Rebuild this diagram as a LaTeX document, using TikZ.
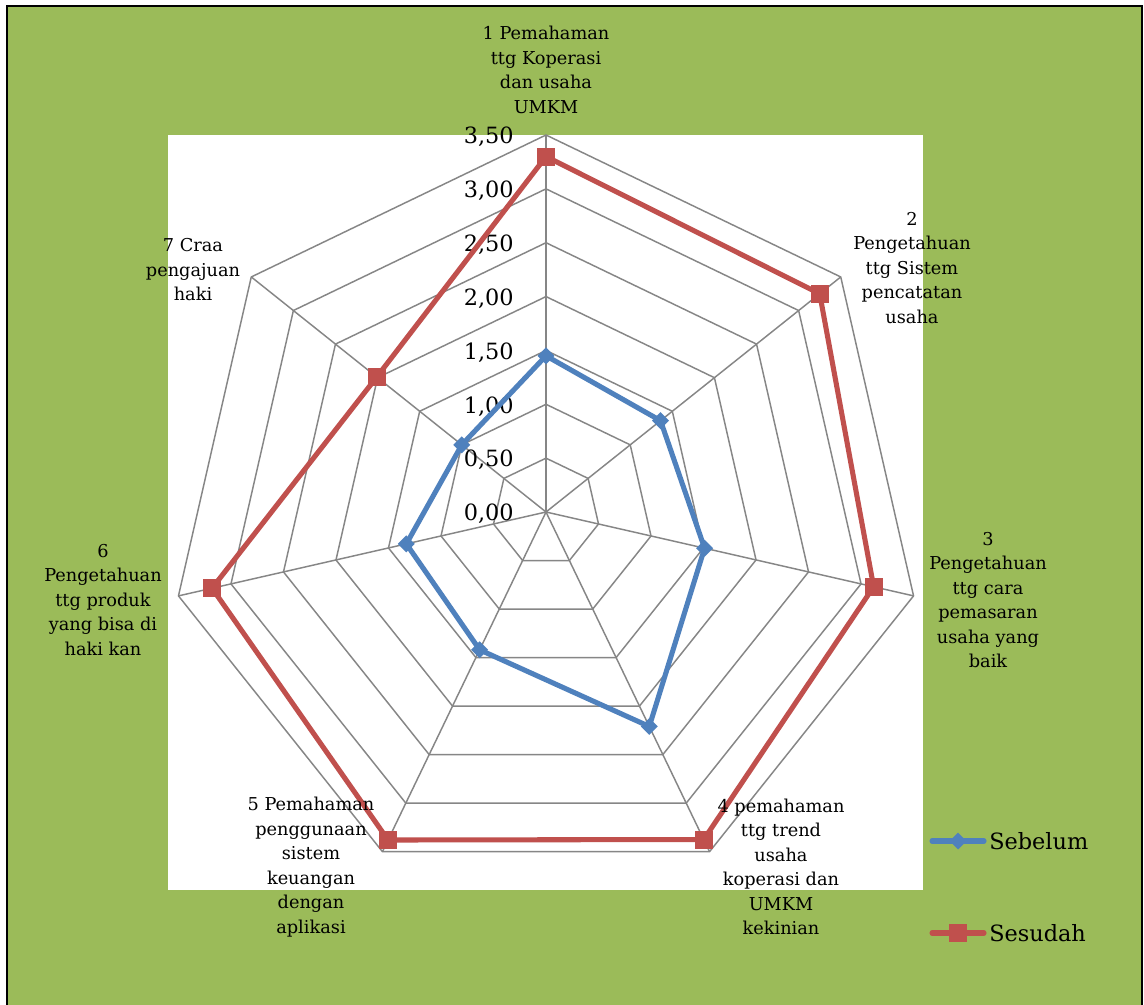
\documentclass[tikz,border=0pt]{standalone}
\usepackage{fontspec}
\setmainfont{DejaVu Serif}
\usetikzlibrary{calc}
\definecolor{bggreen}{HTML}{9BBB59}
\definecolor{gridgray}{HTML}{868686}
\definecolor{serblue}{HTML}{4F81BD}
\definecolor{serred}{HTML}{C0504D}
\tikzset{
  catlabel/.style={font=\fontsize{13.3}{18.4}\selectfont, align=center, inner sep=0pt, text=black},
  axlabel/.style={font=\fontsize{16.8}{18}\selectfont, inner sep=0pt, anchor=east, text=black},
  leglabel/.style={font=\fontsize{16.8}{20}\selectfont, inner sep=0pt, anchor=west, text=black},
  gridline/.style={draw=gridgray, line width=1.1pt, line join=miter},
  blueline/.style={draw=serblue, line width=3.8pt, line join=round, line cap=round},
  redline/.style={draw=serred, line width=3.8pt, line join=round, line cap=round},
  bluemark/.style={fill=serblue, draw=none, rectangle, rotate=45, minimum size=9pt, inner sep=0pt},
  redmark/.style={fill=serred, draw=none, rectangle, minimum size=13.5pt, inner sep=0pt},
}
\begin{document}
\begin{tikzpicture}[x=0.75pt,y=-0.75pt]
\useasboundingbox (0,0) rectangle (1144,1005);
\fill[white] (0,0) rectangle (1144,1005);
\fill[bggreen] (7,6) rectangle (1143,1005);
\draw[black, line width=2pt] (7,1005) -- (7,6) -- (1142,6) -- (1142,1005);
\fill[white] (168,135) rectangle (923,890);
\coordinate (O) at (546,512);
% grid polygons
\foreach \i in {1,...,7}{
  \draw[gridline] ($(O)+(-90:\i*53.857)$)
    \foreach \k in {1,...,6}{ -- ($(O)+({-90+\k*360/7}:\i*53.857)$) } -- cycle;
}
% spokes
\foreach \k in {0,...,6}{
  \coordinate (s\k) at ($(O)+({-90+\k*360/7}:377)$);
  \draw[gridline] (O) -- (s\k);
}
% axis labels
\foreach \i/\t in {0/{0,00},1/{0,50},2/{1,00},3/{1,50},4/{2,00},5/{2,50},6/{3,00},7/{3,50}}{
  \node[axlabel] (ax\i) at (514, {512-\i*53.857+2}) {\t};
}
% data
\def\u{107.714}
\foreach \k/\v in {1/1.45,2/1.36,3/1.51,4/2.21,5/1.42,6/1.33,7/1.0}{
  \coordinate (b\k) at ($(O)+({-90+(\k-1)*360/7}:\v*\u)$);
}
\foreach \k/\v in {1/3.30,2/3.25,3/3.12,4/3.375,5/3.38,6/3.18,7/2.01}{
  \coordinate (r\k) at ($(O)+({-90+(\k-1)*360/7}:\v*\u)$);
}
\draw[blueline] (b1) -- (b2) -- (b3) -- (b4) -- (b5) -- (b6) -- (b7) -- cycle;
\draw[redline] (r1) -- (r2) -- (r3) -- (r4) -- (r5) -- (r6) -- (r7) -- cycle;
\foreach \k in {1,...,7}{
  \node[bluemark] (mb\k) at (b\k) {};
  \node[redmark] (mr\k) at (r\k) {};
}
% category labels
\node[catlabel] (c1) at (546,70) {1 Pemahaman\\ttg Koperasi\\dan usaha\\UMKM};
\node[catlabel] (c2) at (912,268) {2\\Pengetahuan\\ttg Sistem\\pencatatan\\usaha};
\node[catlabel] (c3) at (988,600) {3\\Pengetahuan\\ttg cara\\pemasaran\\usaha yang\\baik};
\node[catlabel] (c4) at (781,867) {4 pemahaman\\ttg trend\\usaha\\koperasi dan\\UMKM\\kekinian};
\node[catlabel] (c5) at (311,867) {5 Pemahaman\\penggunaan\\sistem\\keuangan\\dengan\\aplikasi};
\node[catlabel] (c6) at (103,600) {6\\Pengetahuan\\ttg produk\\yang bisa di\\haki kan};
\node[catlabel] (c7) at (193,270) {7 Craa\\pengajuan\\haki};
% legend
\coordinate (lb1) at (932,841);
\coordinate (lb2) at (984,841);
\draw[blueline] (lb1) -- (lb2);
\node[bluemark] (lbm) at (958,841) {};
\node[leglabel] (lbt) at (989,841) {Sebelum};
\coordinate (lr1) at (932,933);
\coordinate (lr2) at (984,933);
\draw[redline] (lr1) -- (lr2);
\node[redmark] (lrm) at (958,933) {};
\node[leglabel] (lrt) at (989,933) {Sesudah};
\end{tikzpicture}
\end{document}
